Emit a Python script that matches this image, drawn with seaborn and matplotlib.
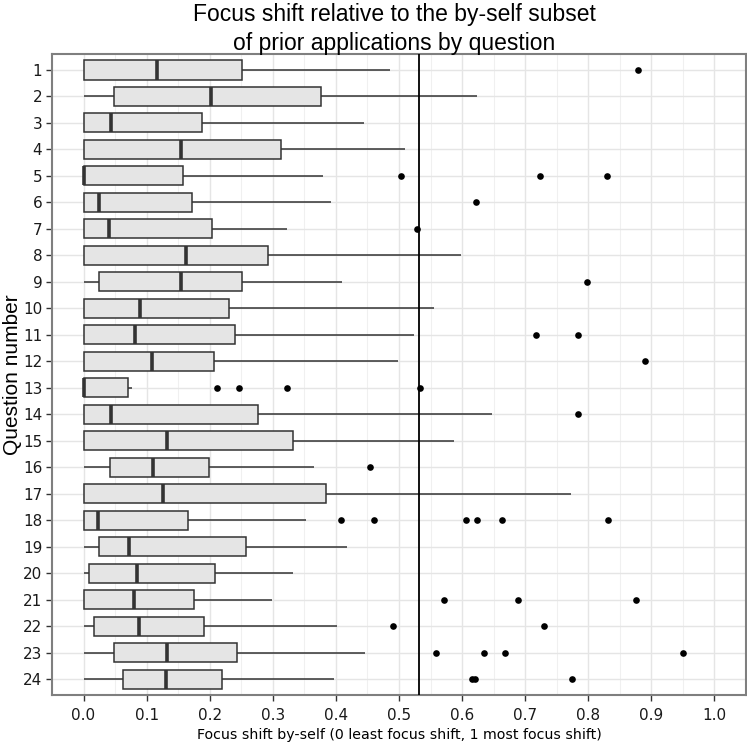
# ==========================
# Import Libraries
# ==========================
import numpy as np
import pandas as pd
import matplotlib
matplotlib.use("Agg")
import matplotlib.pyplot as plt
import seaborn as sns
from matplotlib.ticker import MultipleLocator

# ==========================
# Data
# ==========================
questions = [str(i) for i in range(1, 25)]

whisker_low = [0.0] * 24
q1 = [0.0, 0.048, 0.0, 0.0, 0.0, 0.0, 0.0, 0.0, 0.024, 0.0, 0.0, 0.0,
      0.0, 0.0, 0.0, 0.0418, 0.0, 0.0, 0.0248, 0.0085, 0.0, 0.0164, 0.048, 0.0629]
median = [0.117, 0.202, 0.044, 0.154, 0.0, 0.025, 0.041, 0.163, 0.155, 0.090, 0.082, 0.109,
          0.0, 0.044, 0.1316, 0.1094, 0.126, 0.0227, 0.0719, 0.085, 0.080, 0.0877, 0.1316, 0.130]
q3 = [0.2505, 0.376, 0.188, 0.313, 0.1575, 0.172, 0.204, 0.292, 0.2505, 0.230, 0.240, 0.2067,
      0.0708, 0.2764, 0.332, 0.199, 0.384, 0.1654, 0.2569, 0.209, 0.175, 0.1908, 0.2437, 0.220]
whisker_high = [0.486, 0.624, 0.444, 0.509, 0.379, 0.392, 0.322, 0.598, 0.410, 0.556, 0.524, 0.499,
                0.077, 0.647, 0.587, 0.366, 0.772, 0.353, 0.418, 0.332, 0.298, 0.402, 0.4466, 0.397]

outlier_question = ["1", "5", "5", "5", "6", "7", "9", "11", "11", "12",
                    "13", "13", "13", "13", "14", "16",
                    "18", "18", "18", "18", "18", "18",
                    "21", "21", "21", "22", "22",
                    "23", "23", "23", "23", "24", "24", "24"]
outlier_value = [0.879, 0.504, 0.723, 0.830, 0.622, 0.528, 0.798, 0.717, 0.783, 0.890,
                 0.211, 0.246, 0.322, 0.533, 0.783, 0.454,
                 0.4075, 0.460, 0.606, 0.624, 0.663, 0.832,
                 0.572, 0.689, 0.876, 0.491, 0.730,
                 0.559, 0.634, 0.668, 0.951, 0.616, 0.620, 0.775]

threshold = 0.531

# ==========================
# Build long table from the five-number summaries
# ==========================
rows = []
for i, q in enumerate(questions):
    for v in [whisker_low[i], q1[i], median[i], q3[i], whisker_high[i]]:
        rows.append({"question": q, "value": v})
df = pd.DataFrame(rows)

# ==========================
# Plot
# ==========================
plt.rcParams["font.family"] = ["DejaVu Sans"]
title_font = ["Liberation Sans Narrow", "Liberation Sans"]

fig = plt.figure(figsize=(7.47, 7.47), dpi=100)
ax = fig.add_axes([0.0696, 0.0696, 0.929, 0.858])

sns.boxplot(
    data=df, x="value", y="question", order=questions,
    whis=(0, 100), width=0.72, showcaps=False, fliersize=0,
    color="#E5E5E5", saturation=1, linecolor="#333333", linewidth=1.1,
    medianprops={"linewidth": 2.6, "color": "#333333"},
    ax=ax, zorder=3,
)

sns.stripplot(
    x=outlier_value, y=outlier_question, order=questions,
    jitter=False, color="black", size=4.8, ax=ax, zorder=4,
)

ax.axvline(threshold, color="black", linewidth=1.3, zorder=5)

# axes styling (ggplot theme_bw look)
ax.set_xlim(-0.05, 1.05)
ax.set_ylim(23.6, -0.6)
ax.xaxis.set_major_locator(MultipleLocator(0.1))
ax.xaxis.set_minor_locator(MultipleLocator(0.05))
ax.set_xticklabels([f"{t:.1f}" for t in ax.get_xticks()])
ax.set_xlim(-0.05, 1.05)

ax.set_axisbelow(True)
ax.grid(which="major", axis="both", color="#E5E5E5", linewidth=1.0)
ax.grid(which="minor", axis="x", color="#F0F0F0", linewidth=0.8)
ax.set_facecolor("white")
for s in ax.spines.values():
    s.set_color("#7F7F7F")
    s.set_linewidth(1.5)

ax.tick_params(axis="both", which="major", length=4, width=1, color="#333333",
               labelsize=11, labelcolor="#1A1A1A", pad=3)
ax.tick_params(axis="x", which="major", pad=5)
ax.tick_params(axis="both", which="minor", length=0)

ax.set_xlabel("Focus shift by-self (0 least focus shift, 1 most focus shift)",
              fontsize=10.2, labelpad=4)
ax.set_ylabel("Question number", fontsize=15, labelpad=1, family=title_font)

fig.text(0.528, 0.980, "Focus shift relative to the by-self subset",
         ha="center", va="center", fontsize=16.5, family=title_font)
fig.text(0.528, 0.942, "of prior applications by question",
         ha="center", va="center", fontsize=16.5, family=title_font)

plt.savefig("out.png", dpi=100)
